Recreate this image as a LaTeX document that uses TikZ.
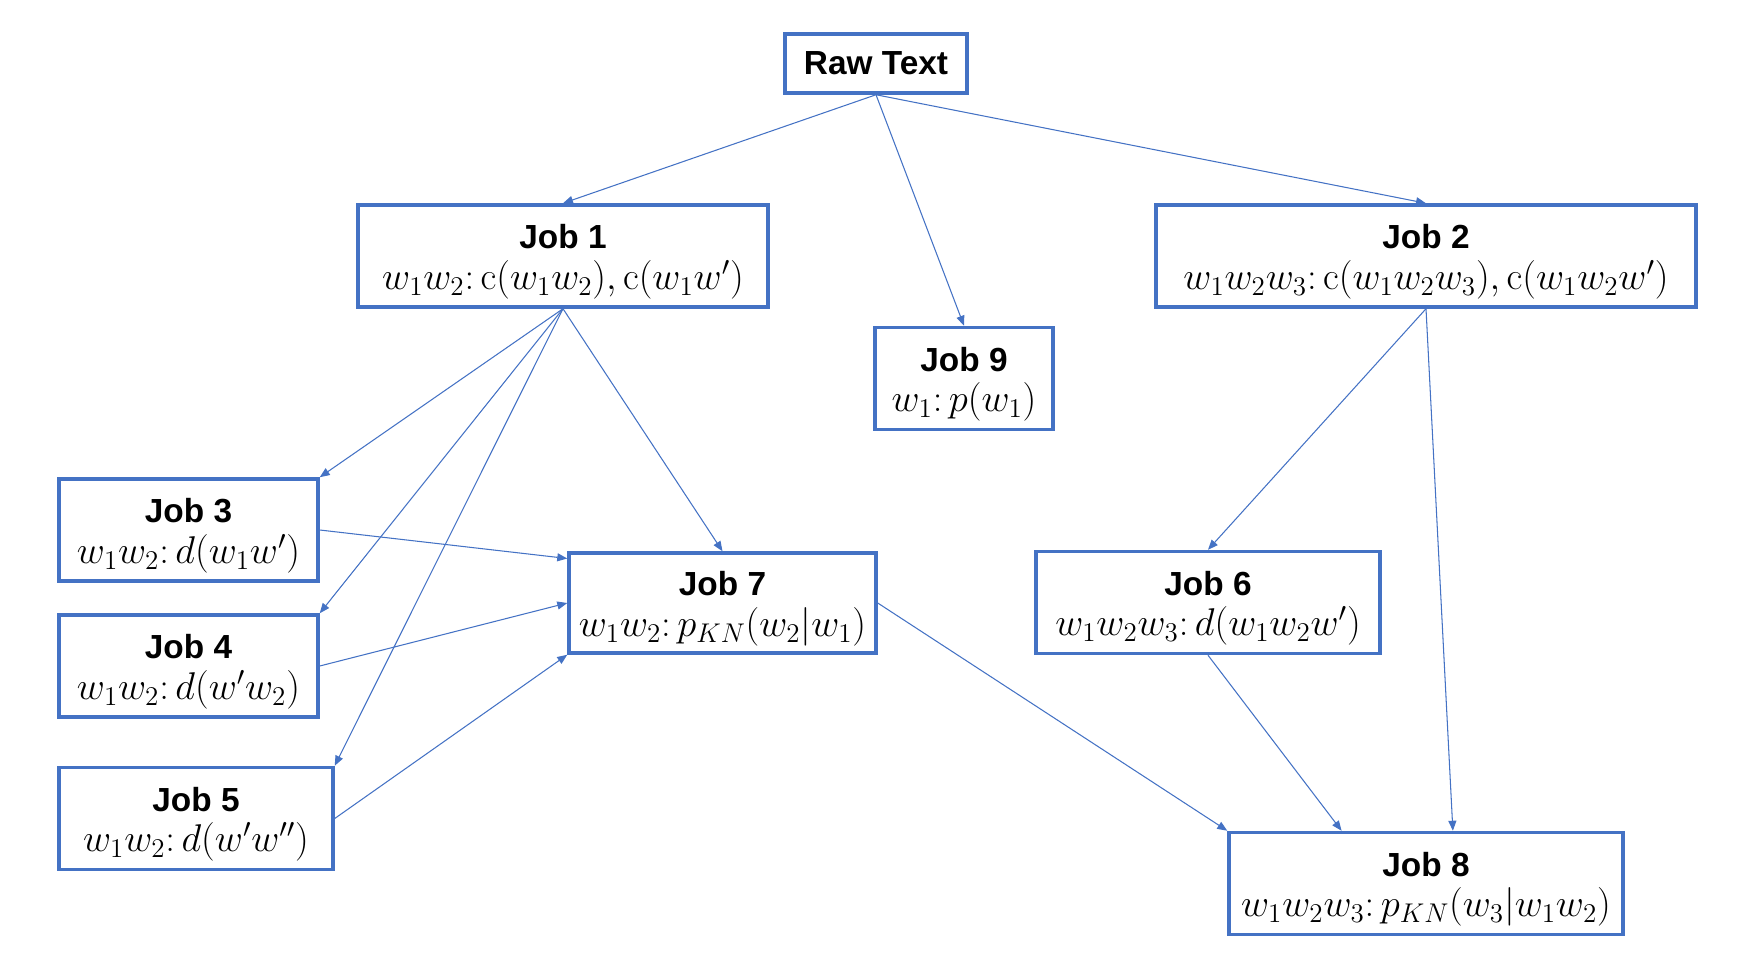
\documentclass[tikz,border=0pt]{standalone}
\usepackage{fix-cm}
\usepackage[no-math]{fontspec}
\setmainfont{Liberation Sans}
\usetikzlibrary{arrows.meta}
\definecolor{jobblue}{HTML}{4472C4}
\tikzset{
  job/.style={draw=jobblue, line width=2pt, align=center, inner sep=0pt,
    minimum height=2.04cm, font=\fontsize{19}{23}\selectfont},
  flow/.style={->, draw=jobblue, line width=0.6pt},
}
\newcommand{\jobtext}[2]{\rule{0pt}{0.72cm}\textbf{Job #1}\\{\fontsize{22}{23}\selectfont$#2$}}
\begin{document}
\begin{tikzpicture}[x=0.02cm, y=-0.02cm, >={Triangle[length=2mm, width=1.6mm]}]
  \useasboundingbox (0,0) rectangle (1740,962);
  % Nodes
  \node[job, minimum width=3.64cm, minimum height=1.18cm] (raw) at (876,63.5) {\textbf{Raw Text}};
  \node[job, minimum width=8.2cm] (job1) at (563,256)
    {\jobtext{1}{w_1w_2\colon \mathrm{c}(w_1w_2), \mathrm{c}(w_1w')}};
  \node[job, minimum width=10.8cm] (job2) at (1426,256)
    {\jobtext{2}{w_1w_2w_3\colon \mathrm{c}(w_1w_2w_3), \mathrm{c}(w_1w_2w')}};
  \node[job, minimum width=3.56cm] (job9) at (964,378.5)
    {\jobtext{9}{w_1\colon p(w_1)}};
  \node[job, minimum width=5.18cm] (job3) at (188.5,530)
    {\jobtext{3}{w_1w_2\colon d(w_1w')}};
  \node[job, minimum width=5.18cm] (job4) at (188.5,666)
    {\jobtext{4}{w_1w_2\colon d(w'w_2)}};
  \node[job, minimum width=5.48cm] (job5) at (196,818.5)
    {\jobtext{5}{w_1w_2\colon d(w'w'')}};
  \node[job, minimum width=6.14cm, minimum height=2cm] (job7) at (722.5,603)
    {\jobtext{7}{w_1w_2\colon p_{KN}(w_2|w_1)}};
  \node[job, minimum width=6.88cm] (job6) at (1208,602.5)
    {\jobtext{6}{w_1w_2w_3\colon d(w_1w_2w')}};
  \node[job, minimum width=7.88cm] (job8) at (1426,883.5)
    {\jobtext{8}{w_1w_2w_3\colon p_{KN}(w_3|w_1w_2)}};
  % Connectors
  \foreach \t in {job1, job9, job2}
    \draw[flow] (raw.south) -- (\t.north);
  \foreach \t in {job3, job4, job5}
    \draw[flow] (job1.south) -- (\t.north east);
  \draw[flow] (job1.south) -- (job7.north);
  \draw[flow] (job3.east) -- (job7.164);
  \draw[flow] (job4.east) -- (job7.west);
  \draw[flow] (job5.east) -- (job7.south west);
  \draw[flow] (job7.east) -- (job8.north west);
  \draw[flow] (job2.south) -- (job6.north);
  \draw[flow] (job2.south) -- (job8.63);
  \draw[flow] (job6.south) -- (job8.148);
\end{tikzpicture}
\end{document}
